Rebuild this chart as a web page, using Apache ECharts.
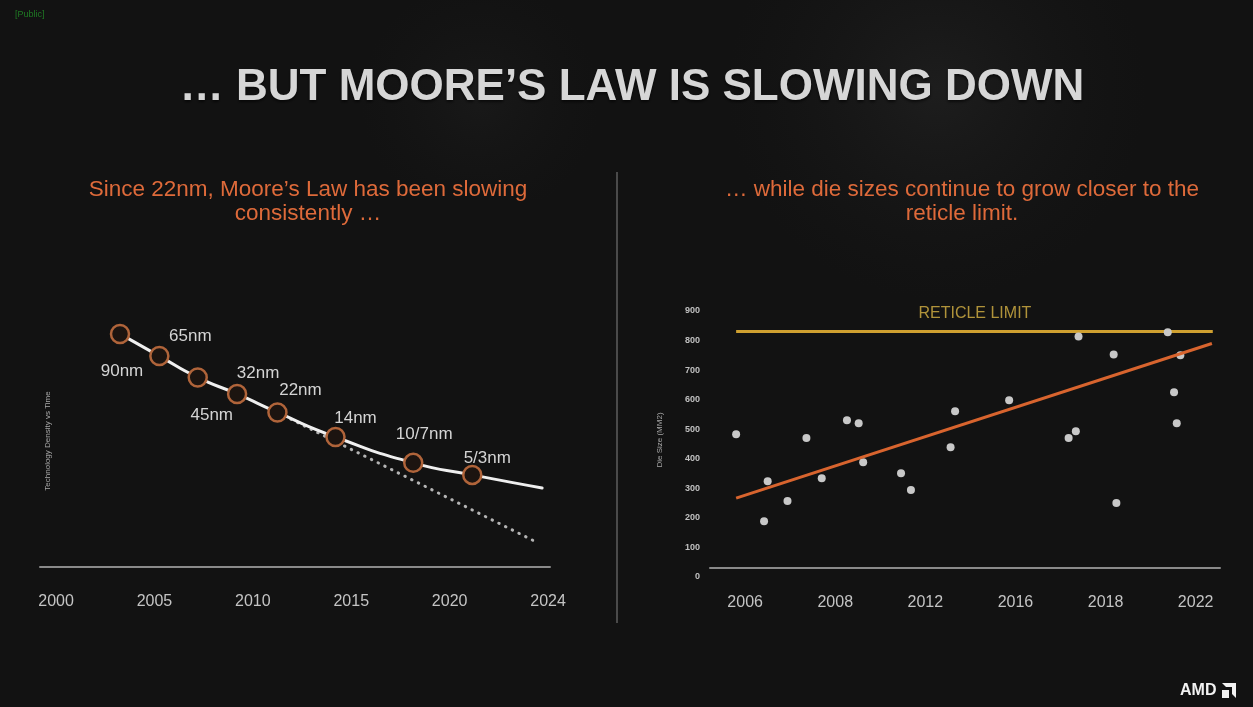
<!DOCTYPE html>
<html>
<head>
<meta charset="utf-8">
<script src="https://cdn.jsdelivr.net/npm/echarts@6/dist/echarts.min.js"></script>
<style>
html,body{margin:0;padding:0;background:#111;}
#c{width:1253px;height:707px;}
</style>
</head>
<body>
<div id="c"></div>
<script>
// ---------- DATA ----------
const leftTickLabels = ['2000', '2005', '2010', '2015', '2020', '2024'];
const nodeNames = ['90nm', '65nm', '45nm', '32nm', '22nm', '14nm', '10/7nm', '5/3nm'];
// x in tick-slot units (0 = 2000 label, 5 = 2024 label), y = relative density
const nodeX = [0.65, 1.05, 1.44, 1.84, 2.25, 2.84, 3.63, 4.23];
const nodeDensity = [87.3, 79.0, 71.0, 64.8, 57.9, 48.7, 39.0, 34.5];
const curveEnd = [4.94, 29.6];
const mooreTrendEnd = [4.90, 9.0];

const rightTickLabels = ['2006', '2008', '2012', '2016', '2018', '2022'];
const dieX = [-0.10, 0.21, 0.25, 0.47, 0.68, 0.85, 1.13, 1.26, 1.31, 1.73, 1.84,
              2.28, 2.33, 2.93, 3.59, 3.67, 3.70, 4.09, 4.12, 4.69, 4.76, 4.79, 4.83];
const dieSize = [483, 189, 324, 257, 470, 334, 530, 520, 388, 351, 294,
                 439, 561, 598, 470, 493, 814, 753, 250, 828, 625, 520, 750];
const dieTrendX = [-0.10, 5.18];
const dieTrendY = [267, 790];
const reticleX = [-0.10, 5.19];
const reticleLimit = 831;
const reticleLabelPos = [2.55, 892];

// ---------- STYLE HELPERS ----------
const labelOffsets = [[2, 37], [31, -20], [14, 38], [21, -21], [23, -22], [20, -19], [11, -29], [15, -17]];
const FONT = 'Liberation Sans, Arial, sans-serif';

const curveData = nodeX.map((x, i) => [x, nodeDensity[i]]).concat([curveEnd]);
const dottedData = [[nodeX[4], nodeDensity[4]], mooreTrendEnd];
const nodeData = nodeX.map((x, i) => ({
  value: [x, nodeDensity[i]],
  name: nodeNames[i],
  label: { offset: labelOffsets[i] }
}));
const dieData = dieX.map((x, i) => [x, dieSize[i]]);

const chart = echarts.init(document.getElementById('c'), null, { renderer: 'canvas' });

const option = {
  backgroundColor: '#121212',
  animation: false,
  grid: [
    { left: 40, top: 300, width: 510, height: 267 },
    { left: 710, top: 311, width: 510, height: 266 }
  ],
  xAxis: [
    {
      gridIndex: 0, type: 'value', min: -0.163, max: 5.02,
      axisLine: { show: true, lineStyle: { color: '#8a8a8a', width: 2 } },
      axisTick: { show: false },
      splitLine: { show: false },
      axisLabel: {
        customValues: [0, 1, 2, 3, 4, 5],
        formatter: v => leftTickLabels[Math.round(v)],
        color: '#c4c4c4', fontSize: 16, fontFamily: FONT, margin: 27
      }
    },
    {
      gridIndex: 1, type: 'value', min: -0.39, max: 5.27, offset: -9,
      axisLine: { show: true, lineStyle: { color: '#8a8a8a', width: 2 } },
      axisTick: { show: false },
      splitLine: { show: false },
      axisLabel: {
        customValues: [0, 1, 2, 3, 4, 5],
        formatter: v => rightTickLabels[Math.round(v)],
        color: '#c4c4c4', fontSize: 16, fontFamily: FONT, margin: 27
      }
    }
  ],
  yAxis: [
    {
      gridIndex: 0, type: 'value', min: 0, max: 100,
      axisLine: { show: false }, axisTick: { show: false },
      axisLabel: { show: false }, splitLine: { show: false }
    },
    {
      gridIndex: 1, type: 'value', min: 0, max: 900, interval: 100,
      axisLine: { show: false }, axisTick: { show: false },
      splitLine: { show: false },
      axisLabel: { color: '#c0c0c0', fontSize: 9, fontWeight: 'bold', fontFamily: FONT, margin: 10 }
    }
  ],
  series: [
    {
      type: 'line', xAxisIndex: 0, yAxisIndex: 0,
      data: dottedData, showSymbol: false, silent: true,
      lineStyle: { color: '#b4b4b4', width: 3, type: [0.5, 7], cap: 'round' },
      z: 2
    },
    {
      type: 'line', xAxisIndex: 0, yAxisIndex: 0,
      data: curveData, smooth: 0.6, showSymbol: false, silent: true,
      lineStyle: { color: '#efefef', width: 3, cap: 'round' },
      z: 3
    },
    {
      type: 'scatter', xAxisIndex: 0, yAxisIndex: 0,
      data: nodeData, symbolSize: 18,
      itemStyle: { color: '#1c1410', borderColor: '#b0643a', borderWidth: 2.5, opacity: 1 },
      label: {
        show: true, position: 'inside', formatter: p => p.name,
        color: '#d4d4d4', fontSize: 17, fontFamily: FONT
      },
      z: 4
    },
    {
      type: 'line', xAxisIndex: 1, yAxisIndex: 1,
      data: reticleX.map(x => [x, reticleLimit]), showSymbol: false, silent: true,
      lineStyle: { color: '#cfa030', width: 3 },
      z: 2
    },
    {
      type: 'scatter', xAxisIndex: 1, yAxisIndex: 1,
      data: dieData, symbolSize: 8,
      itemStyle: { color: '#c8c8c8', opacity: 1 },
      z: 3
    },
    {
      type: 'line', xAxisIndex: 1, yAxisIndex: 1,
      data: dieTrendX.map((x, i) => [x, dieTrendY[i]]), showSymbol: false, silent: true,
      lineStyle: { color: '#d8642e', width: 3 },
      z: 4
    },
    {
      type: 'scatter', xAxisIndex: 1, yAxisIndex: 1,
      data: [reticleLabelPos], symbolSize: 0, silent: true,
      label: {
        show: true, position: 'inside', formatter: 'RETICLE LIMIT',
        color: '#d8b445', fontSize: 16, fontFamily: FONT
      },
      z: 5
    }
  ],
  graphic: [
    { type: 'rect', shape: { x: 620, y: 0, width: 633, height: 300 }, silent: true, z: -10,
      style: { fill: { type: 'radial', x: 0.5, y: 0.3, r: 0.7,
        colorStops: [{ offset: 0, color: 'rgba(70,70,70,0.22)' }, { offset: 1, color: 'rgba(40,40,40,0)' }] } } },
    { type: 'rect', shape: { x: 180, y: 0, width: 500, height: 200 }, silent: true, z: -10,
      style: { fill: { type: 'radial', x: 0.6, y: 0.5, r: 0.6,
        colorStops: [{ offset: 0, color: 'rgba(60,60,60,0.16)' }, { offset: 1, color: 'rgba(40,40,40,0)' }] } } },
    { type: 'text', left: 15, top: 10, silent: true,
      style: { text: '[Public]', fill: '#1f7a24', font: '9px ' + FONT } },
    { type: 'text', x: 632, y: 88, silent: true,
      style: {
        text: '… BUT MOORE’S LAW IS SLOWING DOWN',
        font: 'bold 44px ' + FONT, textAlign: 'center', textVerticalAlign: 'middle',
        fill: '#d6d6d6', textShadowColor: 'rgba(0,0,0,0.6)', textShadowBlur: 3, textShadowOffsetY: 2
      } },
    { type: 'text', x: 308, y: 202, silent: true,
      style: {
        text: 'Since 22nm, Moore’s Law has been slowing\nconsistently …',
        font: '22.5px ' + FONT, textAlign: 'center', textVerticalAlign: 'middle',
        fill: '#de6a3a', lineHeight: 24
      } },
    { type: 'text', x: 962, y: 202, silent: true,
      style: {
        text: '… while die sizes continue to grow closer to the\nreticle limit.',
        font: '22.5px ' + FONT, textAlign: 'center', textVerticalAlign: 'middle',
        fill: '#de6a3a', lineHeight: 24
      } },
    { type: 'line', shape: { x1: 617, y1: 172, x2: 617, y2: 623 }, silent: true,
      style: { stroke: '#4a4a4a', lineWidth: 2 } },
    { type: 'text', x: 48, y: 441, rotation: Math.PI / 2, silent: true,
      style: { text: 'Technology Density vs Time', font: '8px ' + FONT,
        textAlign: 'center', textVerticalAlign: 'middle', fill: '#a8a8a8' } },
    { type: 'text', x: 660, y: 440, rotation: Math.PI / 2, silent: true,
      style: { text: 'Die Size (MM2)', font: '8px ' + FONT,
        textAlign: 'center', textVerticalAlign: 'middle', fill: '#a8a8a8' } },
    { type: 'text', x: 1180, y: 691, silent: true,
      style: { text: 'AMD', font: 'bold 16px ' + FONT, textVerticalAlign: 'middle', fill: '#f2f2f2' } },
    { type: 'polygon', silent: true,
      shape: { points: [[1222, 683], [1236, 683], [1236, 698], [1232, 694], [1232, 687], [1226, 687]] },
      style: { fill: '#f2f2f2' } },
    { type: 'polygon', silent: true,
      shape: { points: [[1222, 690], [1229, 690], [1229, 698], [1222, 698]] },
      style: { fill: '#f2f2f2' } }
  ]
};
chart.setOption(option);
</script>
</body>
</html>
